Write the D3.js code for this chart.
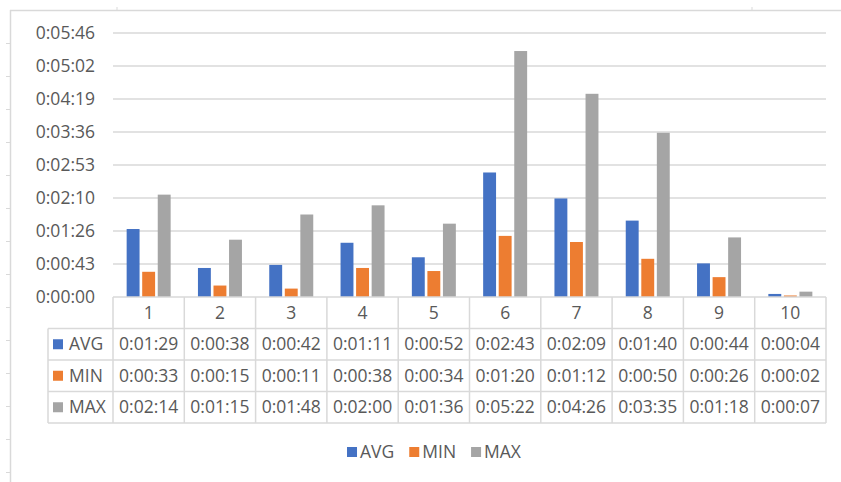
<!DOCTYPE html>
<html>
<head>
<meta charset="utf-8">
<script src="https://cdn.jsdelivr.net/npm/d3@7"></script>
<style>
  body { margin: 0; background: #fff; }
  text { font-family: "Open Sans", "Liberation Sans", sans-serif; fill: #595959; }
</style>
</head>
<body>
<div id="chart"></div>
<script>
// data (seconds)
const categories = ["1", "2", "3", "4", "5", "6", "7", "8", "9", "10"];
const seriesNames = ["AVG", "MIN", "MAX"];
const avgValues = [89, 38, 42, 71, 52, 163, 129, 100, 44, 4];
const minValues = [33, 15, 11, 38, 34, 80, 72, 50, 26, 2];
const maxValues = [134, 75, 108, 120, 96, 322, 266, 215, 78, 7];
// Excel time axis: steps of 0.0005 day = 43.2 s
const yTicks = [0, 43.2, 86.4, 129.6, 172.8, 216, 259.2, 302.4, 345.6];

const colors = ["#4472C4", "#ED7D31", "#A5A5A5"];
const lineColor = "#d9d9d9";
const width = 841, height = 482;
const fontSize = 17.5;

const seriesValues = [avgValues, minValues, maxValues];

function fmtTime(s) {
  s = Math.round(s);
  const h = Math.floor(s / 3600);
  const m = Math.floor((s % 3600) / 60);
  const sec = s % 60;
  return h + ":" + String(m).padStart(2, "0") + ":" + String(sec).padStart(2, "0");
}

const svg = d3.select("#chart")
  .append("svg")
    .attr("width", width)
    .attr("height", height);

// sheet frame lines and little row/column marks
svg.append("line").attr("x1", 10).attr("x2", width).attr("y1", 10.5).attr("y2", 10.5)
  .attr("stroke", lineColor).attr("stroke-width", 1.5);
svg.append("line").attr("x1", 10.5).attr("x2", 10.5).attr("y1", 10).attr("y2", height)
  .attr("stroke", lineColor).attr("stroke-width", 1.5);
svg.selectAll(".rowmark")
  .data(d3.range(14))
  .join("line")
    .attr("x1", 6).attr("x2", 10)
    .attr("y1", d => 43.5 + d * 33).attr("y2", d => 43.5 + d * 33)
    .attr("stroke", lineColor);
svg.selectAll(".colmark")
  .data([117, 752])
  .join("line")
    .attr("x1", d => d).attr("x2", d => d)
    .attr("y1", 7).attr("y2", 10)
    .attr("stroke", lineColor);

// scales
const x = d3.scaleBand()
  .domain(categories)
  .range([113, 826]);

const x1 = d3.scaleBand()
  .domain(seriesNames)
  .range([x.bandwidth() / 2 - 22, x.bandwidth() / 2 + 22])
  .paddingInner(0.17);

const y = d3.scaleLinear()
  .domain([0, 345.6])
  .range([297, 33]);

// gridlines
svg.selectAll(".grid")
  .data(yTicks.slice(1))
  .join("line")
    .attr("x1", 113).attr("x2", 826)
    .attr("y1", d => y(d)).attr("y2", d => y(d))
    .attr("stroke", lineColor)
    .attr("stroke-width", 1.5);

// y labels
svg.selectAll(".ylabel")
  .data(yTicks)
  .join("text")
    .attr("x", 95)
    .attr("y", d => y(d))
    .attr("dy", "0.35em")
    .attr("text-anchor", "end")
    .style("font-size", fontSize + "px")
    .text(d => fmtTime(d));

// bars
const groups = svg.selectAll(".cat")
  .data(categories)
  .join("g")
    .attr("transform", d => `translate(${x(d)},0)`);

groups.selectAll("rect")
  .data((d, i) => seriesNames.map((s, j) => ({ series: s, value: seriesValues[j][i], color: colors[j] })))
  .join("rect")
    .attr("x", d => x1(d.series))
    .attr("width", x1.bandwidth())
    .attr("y", d => y(d.value))
    .attr("height", d => y(0) - y(d.value))
    .attr("fill", d => d.color);

// data table
const rows = d3.scaleBand()
  .domain(["head"].concat(seriesNames))
  .range([297, 423]);
const tableLeft = 48;

const table = svg.append("g");
// horizontal lines
table.append("line").attr("x1", 113).attr("x2", 826).attr("y1", 297).attr("y2", 297);
seriesNames.forEach(function(s) {
  table.append("line").attr("x1", tableLeft).attr("x2", 826)
    .attr("y1", rows(s)).attr("y2", rows(s));
});
table.append("line").attr("x1", tableLeft).attr("x2", 826).attr("y1", 423).attr("y2", 423);
// vertical lines
table.append("line").attr("x1", tableLeft).attr("x2", tableLeft).attr("y1", rows("AVG")).attr("y2", 423);
categories.forEach(function(c) {
  table.append("line").attr("x1", x(c)).attr("x2", x(c)).attr("y1", 297).attr("y2", 423);
});
table.append("line").attr("x1", 826).attr("x2", 826).attr("y1", 297).attr("y2", 423);
table.selectAll("line").attr("stroke", lineColor).attr("stroke-width", 1.5);

// header labels
table.selectAll(".head")
  .data(categories)
  .join("text")
    .attr("x", d => x(d) + x.bandwidth() / 2)
    .attr("y", rows("head") + rows.bandwidth() / 2)
    .attr("dy", "0.35em")
    .attr("text-anchor", "middle")
    .style("font-size", fontSize + "px")
    .text(d => d);

seriesNames.forEach(function(s, j) {
  const cy = rows(s) + rows.bandwidth() / 2;
  table.append("rect")
    .attr("x", 53).attr("y", cy - 5)
    .attr("width", 10).attr("height", 10)
    .attr("fill", colors[j]);
  table.append("text")
    .attr("x", 69).attr("y", cy).attr("dy", "0.35em")
    .style("font-size", fontSize + "px")
    .text(s);
  table.selectAll(".cell" + j)
    .data(seriesValues[j])
    .join("text")
      .attr("x", (d, i) => x(categories[i]) + x.bandwidth() / 2)
      .attr("y", cy)
      .attr("dy", "0.35em")
      .attr("text-anchor", "middle")
      .style("font-size", fontSize + "px")
      .text(d => fmtTime(d));
});

// legend
const legend = svg.append("g");
let lx = 0;
seriesNames.forEach(function(s, j) {
  const item = legend.append("g").attr("transform", `translate(${lx},0)`);
  item.append("rect").attr("x", 0).attr("y", -5).attr("width", 10).attr("height", 10).attr("fill", colors[j]);
  const t = item.append("text").attr("x", 13).attr("dy", "0.35em")
    .style("font-size", fontSize + "px").text(s);
  lx += 13 + t.node().getComputedTextLength() + 15;
});
const legendWidth = lx - 15;
legend.attr("transform", `translate(${434 - legendWidth / 2},452)`);
</script>
</body>
</html>
